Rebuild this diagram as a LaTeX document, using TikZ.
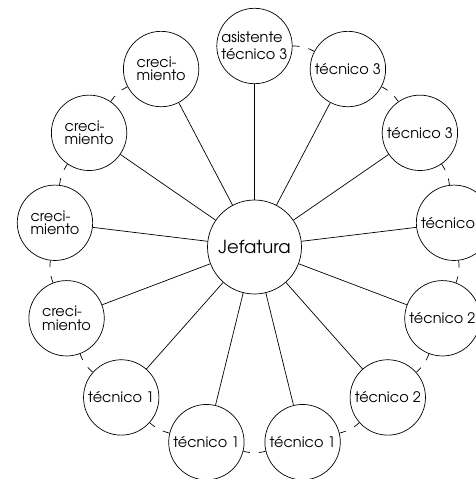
\documentclass[tikz,border=0pt]{standalone}
\usepackage{fontspec}
\IfFontExistsTF{TeX Gyre Adventor}{\setmainfont{TeX Gyre Adventor}}{\setmainfont{Poppins}}
\begin{document}
\begin{tikzpicture}[x=1pt,y=1pt,
  ringnode/.style={circle,draw,line width=0.7pt,fill=white,minimum size=75.4pt,inner sep=0pt,
    font=\fontsize{14.5}{13.4}\selectfont,align=left},
  hub/.style={circle,draw,line width=0.7pt,fill=white,minimum size=94pt,inner sep=0pt,
    font=\fontsize{18}{20}\selectfont},
  spoke/.style={line width=0.7pt},
  link/.style={line width=0.7pt,dash pattern=on 7pt off 9pt on 30pt off 60pt}]
\useasboundingbox (0,0) rectangle (475,-479);
\node[hub] (c) at (254.5,-247) {Jefatura};
\foreach \k/\t in {0/{asistente\\[3.9pt]técnico 3},1/{técnico 3},2/{técnico 3},3/{técnico\phantom{ 2}},
  4/{técnico 2},5/{técnico 2},6/{técnico 1},7/{técnico 1},8/{técnico 1},
  9/{creci-\\miento},10/{creci-\\miento},11/{creci-\\miento},12/{creci-\\miento}}{
  \node[ringnode] (o\k) at ({254.5+201*cos(90-\k*27.6923)},{-247+201*sin(90-\k*27.6923)}) {\t};
}
\foreach \k in {0,...,12}{\draw[spoke] (c) -- (o\k);}
\foreach \k [evaluate=\k as \j using {int(mod(\k+1,13))}] in {0,...,11}{
  \draw[link] (o\k) to[bend left=13.85] (o\j);
}
\end{tikzpicture}
\end{document}
